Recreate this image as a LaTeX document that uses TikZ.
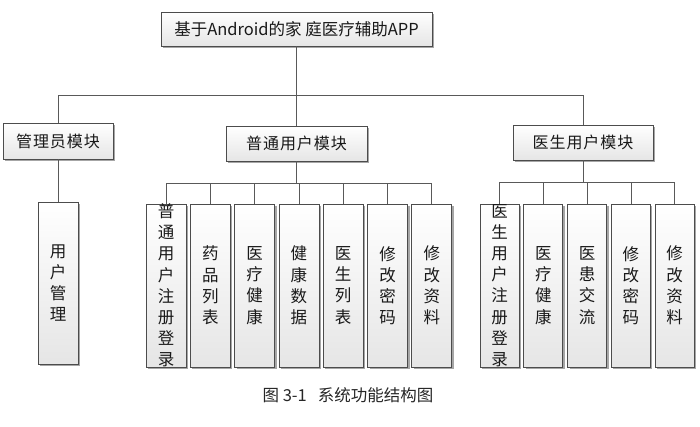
\documentclass[tikz,border=0pt]{standalone}
\usepackage{fontspec}
\newfontfamily\cjk{Noto Sans CJK SC}
\newfontfamily\cjkls{Noto Sans CJK SC}[LetterSpace=6]
\usetikzlibrary{shadows}
\begin{document}
\begin{tikzpicture}[x=1pt,y=-1pt,
  box/.style={draw=black!70, line width=0.8pt, top color=white, bottom color=black!10,
    drop shadow={shadow xshift=2pt,shadow yshift=-2pt,fill=black!35,opacity=1},
    inner sep=0pt, font=\cjkls\fontsize{16}{20}\selectfont, text=black!90},
  leaf/.style={box, minimum width=40pt, minimum height=163pt},
  vtext/.style={inner sep=0pt, align=center, font=\cjk\fontsize{16.5}{21.2}\selectfont, text=black!90},
  conn/.style={draw=black!65, line width=0.8pt}
]
\useasboundingbox (0,0) rectangle (700,426);
% top
\node[box, minimum width=271pt, minimum height=34pt, font=\cjk\fontsize{16.5}{20}\selectfont] (top) at (296.5,29) {基于Android的家 庭医疗辅助APP};
% level 2
\node[box, minimum width=110pt, minimum height=36pt] (adm) at (58,141) {管理员模块};
\node[box, minimum width=141pt, minimum height=35pt] (gen) at (296.5,143.5) {普通用户模块};
\node[box, minimum width=140pt, minimum height=35pt] (doc) at (583,142.5) {医生用户模块};
% admin leaf
\node[leaf, minimum height=162pt, label={[vtext]center:{用\\户\\管\\理}}] (a1) at (58,283) {};
% general user leaves
\node[leaf, label={[vtext]center:{普\\通\\用\\户\\注\\册\\登\\录}}] (p1) at (166,285.5) {};
\node[leaf, label={[vtext]center:{药\\品\\列\\表}}] (p2) at (210.3,285.5) {};
\node[leaf, label={[vtext]center:{医\\疗\\健\\康}}] (p3) at (254.6,285.5) {};
\node[leaf, label={[vtext]center:{健\\康\\数\\据}}] (p4) at (298.9,285.5) {};
\node[leaf, label={[vtext]center:{医\\生\\列\\表}}] (p5) at (343.2,285.5) {};
\node[leaf, label={[vtext]center:{修\\改\\密\\码}}] (p6) at (387.5,285.5) {};
\node[leaf, label={[vtext]center:{修\\改\\资\\料}}] (p7) at (431.8,285.5) {};
% doctor leaves
\node[leaf, minimum width=39pt, label={[vtext]center:{医\\生\\用\\户\\注\\册\\登\\录}}] (d1) at (499.5,285.5) {};
\node[leaf, minimum width=39pt, label={[vtext]center:{医\\疗\\健\\康}}] (d2) at (543.3,285.5) {};
\node[leaf, minimum width=39pt, label={[vtext]center:{医\\患\\交\\流}}] (d3) at (587.1,285.5) {};
\node[leaf, minimum width=39pt, label={[vtext]center:{修\\改\\密\\码}}] (d4) at (630.9,285.5) {};
\node[leaf, minimum width=39pt, label={[vtext]center:{修\\改\\资\\料}}] (d5) at (674.7,285.5) {};
% buses
\coordinate (bus1) at (296.5,95.5);
\coordinate (bus2) at (296.5,183);
\coordinate (bus3) at (583,182);
% connectors
\draw[conn] (top.south) -- (bus1);
\draw[conn] (adm.north) -- (adm.north |- bus1) -- (doc.north |- bus1) -- (doc.north);
\draw[conn] (gen.north) -- (gen.north |- bus1);
\draw[conn] (adm.south) -- (a1.north);
\draw[conn] (gen.south) -- (bus2);
\draw[conn] (p1.north) -- (p1.north |- bus2) -- (p7.north |- bus2) -- (p7.north);
\foreach \n in {p2,p3,p4,p5,p6} \draw[conn] (\n.north) -- (\n.north |- bus2);
\draw[conn] (doc.south) -- (bus3);
\draw[conn] (d1.north) -- (d1.north |- bus3) -- (d5.north |- bus3) -- (d5.north);
\foreach \n in {d2,d3,d4} \draw[conn] (\n.north) -- (\n.north |- bus3);
% caption
\node[font=\cjk\fontsize{16.5}{18}\selectfont, text=black!85, inner sep=0pt] (cap) at (348,395) {图\ 3-1\ \ \ 系统功能结构图};
\end{tikzpicture}
\end{document}
